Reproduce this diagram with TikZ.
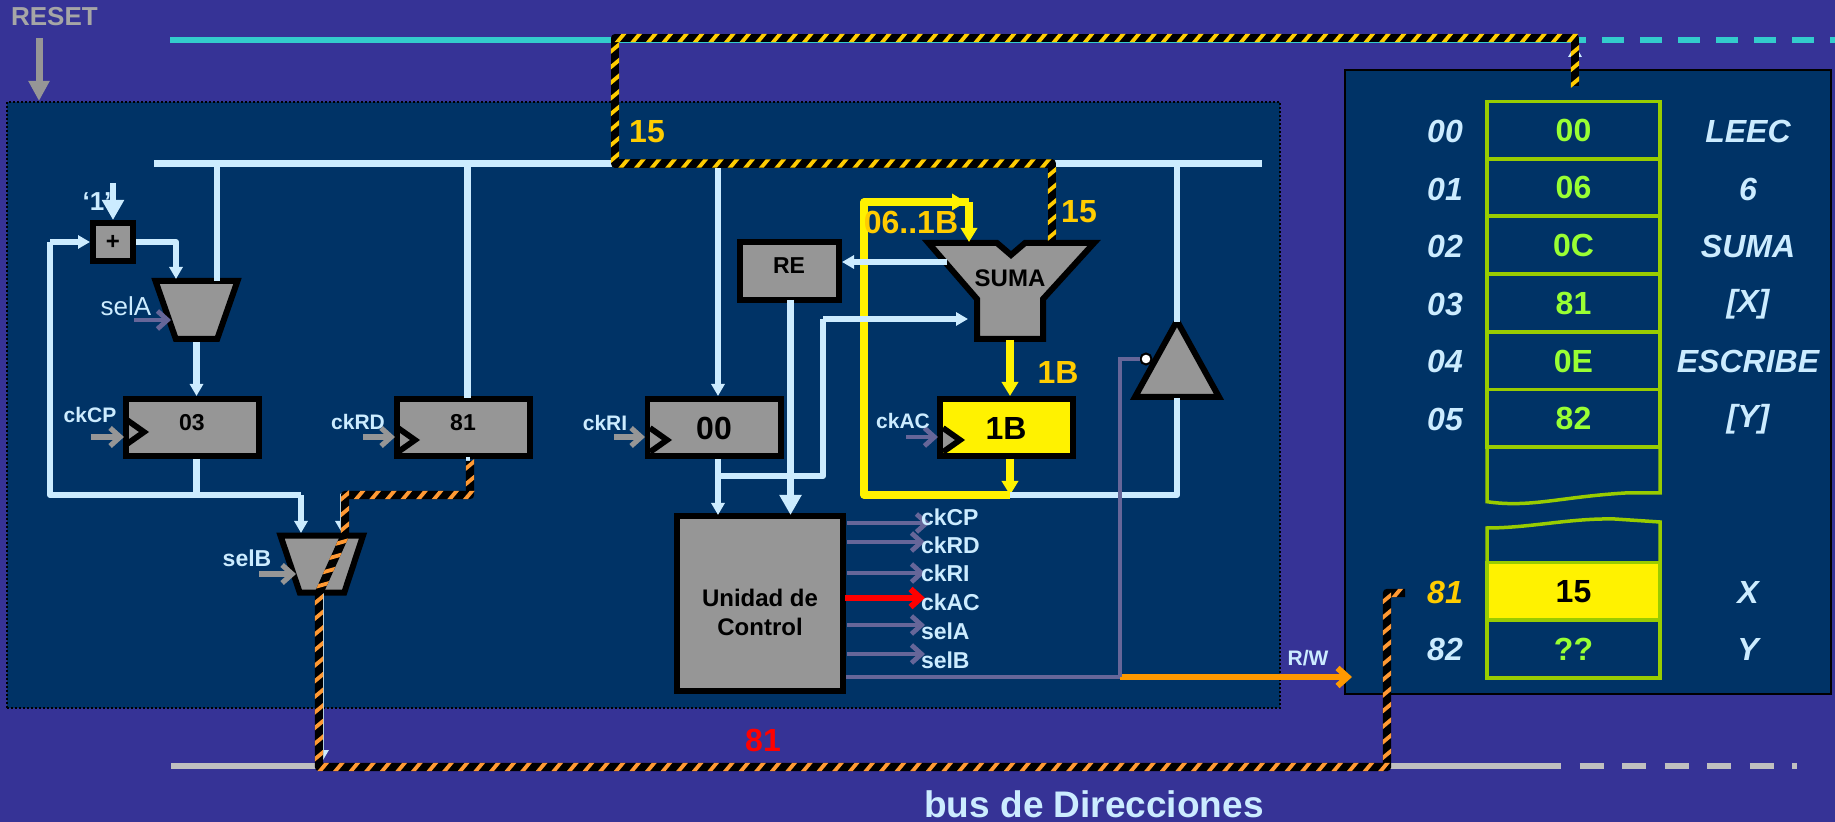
\documentclass[tikz,border=0pt]{standalone}
\usepackage{fontspec}
\setmainfont{Liberation Sans}
\usetikzlibrary{arrows.meta,decorations.markings}
\definecolor{bgp}{HTML}{363396}
\definecolor{panel}{HTML}{003366}
\definecolor{lb}{HTML}{CCECFF}
\definecolor{teal1}{HTML}{33CCCC}
\definecolor{boxg}{HTML}{969696}
\definecolor{ctl}{HTML}{666699}
\definecolor{gold}{HTML}{FFCC00}
\definecolor{memg}{HTML}{99CC00}
\definecolor{memt}{HTML}{99FF33}
\definecolor{busg}{HTML}{C0C0C0}
\definecolor{org}{HTML}{FF9933}
\definecolor{rworg}{HTML}{FF9900}
\newcommand{\szb}[1]{\fontsize{#1pt}{#1pt}\selectfont\bfseries}
\newcommand{\szi}[1]{\fontsize{#1pt}{#1pt}\selectfont\bfseries\itshape}
\tikzset{
  txt/.style={inner sep=0pt,outer sep=0pt,text=lb,align=center},
  box/.style={draw=black,line width=2.8pt,fill=boxg,inner sep=0pt},
  reg/.style={box,minimum width=66.7pt,minimum height=28.7pt},
  shapeb/.style={draw=black,line width=3pt,fill=boxg,line join=miter},
  lw/.style={draw=lb,line width=3.1pt,line join=round},
  tipS/.style={-{Triangle[length=6pt,width=6.5pt]}},
  tipL/.style={-{Triangle[length=10pt,width=10.5pt]}},
  ywire/.style={draw=yellow,line width=3.6pt,line join=round},
  tipY/.style={-{Triangle[length=7pt,width=8pt]}},
  ctlw/.style={draw=ctl,line width=2.4pt},
  barb/.style={-{Straight Barb[length=5pt,width=9pt]}},
  cell/.style={draw=memg,line width=1.75pt,minimum width=86.5pt,minimum height=28.75pt,inner sep=0pt,outer sep=0pt,text=memt},
  hazard/.style={draw=black,line width=4.2pt,line join=round,
    postaction={decorate,decoration={markings,mark=between positions 2pt and 1 step 7.8pt with {
      \pgfgettransformentries{\hma}{\hmb}{\hmc}{\hmd}{\hme}{\hmf}
      \pgfmathsetmacro{\hzs}{abs(\hma)>=abs(\hmb)?1:-1}
      \fill[#1] ({\hzs*-3pt},-2.1pt) -- ({\hzs*-0.5pt},-2.1pt) -- ({\hzs*3pt},2.1pt) -- ({\hzs*0.5pt},2.1pt) -- cycle;}}}}
}
\begin{document}
\begin{tikzpicture}[x=0.5pt,y=-0.5pt]
\useasboundingbox (0,0) rectangle (1835,822);
\fill[bgp] (0,0) rectangle (1835,822);
% panels
\node[draw=black,line width=1pt,dash pattern=on 1pt off 1pt,fill=panel,minimum width=636.5pt,minimum height=303pt,inner sep=0pt] (cpu) at (643.5,405) {};
\node[draw=black,line width=1pt,fill=panel,minimum width=243pt,minimum height=312pt,inner sep=0pt] (memory) at (1588,382) {};

% coordinates
\coordinate (resetA) at (39,38); \coordinate (resetB) at (39,101);
\coordinate (tbusL) at (170,40); \coordinate (tbusM) at (1575,40);
\coordinate (tdashL) at (1564,40); \coordinate (tbusR) at (1835,40);
\coordinate (abusL) at (171,766); \coordinate (abusM) at (320,766);
\coordinate (abusN) at (1387,766); \coordinate (abusO) at (1537,766); \coordinate (abusR) at (1797,766);
\coordinate (busL) at (154,163.5); \coordinate (busR) at (1262,163.5);
\coordinate (busA) at (217,163.5); \coordinate (busD) at (467.5,163.5);
\coordinate (busI) at (718,163.5); \coordinate (busT) at (1177,163.5);
\coordinate (muxAin1) at (217,281); \coordinate (muxAin2) at (176,279);
\coordinate (muxAout) at (196.5,342);
\coordinate (muxBin1) at (301,533); \coordinate (muxBin2) at (342,533); \coordinate (muxBout) at (322,593);
\coordinate (loopL) at (50,495); \coordinate (loopM) at (50,242);
\coordinate (hzA) at (1575,86); \coordinate (hzB) at (1575,38); \coordinate (hzC) at (615,38);
\coordinate (hzD) at (615,163.5); \coordinate (hzE) at (1052,163.5); \coordinate (hzF) at (1052,242);
\coordinate (hoA) at (470,461); \coordinate (hoB) at (470,495); \coordinate (hoC) at (345,495);
\coordinate (hoD) at (345,535); \coordinate (hoE) at (319,593); \coordinate (hoF) at (319,767);
\coordinate (hoG) at (1387,767); \coordinate (hoH) at (1387,593); \coordinate (hoI) at (1405,593);
\coordinate (sIn1) at (969,242); \coordinate (sIn2) at (968,319); \coordinate (sOutR) at (947,262);
\coordinate (sOutY) at (1010,340);
\coordinate (yTL) at (864,202); \coordinate (yBL) at (864,495); \coordinate (yJ) at (1010,495);
\coordinate (yTR) at (969,202); \coordinate (trB) at (1177,398); \coordinate (trT) at (1177,322);
\coordinate (rwA) at (846,677); \coordinate (rwB) at (1120,677); \coordinate (rwC) at (1352,677);

% buses
\draw[draw=teal1,line width=3pt] (tbusL) -- (tbusM);
\draw[draw=teal1,line width=3pt,dash pattern=on 11pt off 8pt] (tdashL) -- (tbusR);
\draw[draw=busg,line width=3pt] (abusL) -- (abusM);
\draw[draw=busg,line width=3pt] (abusN) -- (abusO);
\draw[draw=busg,line width=3pt,dash pattern=on 12pt off 9.25pt] (abusO) -- (abusR);
\draw[draw=boxg,line width=3.5pt,-{Triangle[length=10pt,width=10pt]}] (resetA) -- (resetB);
\draw[lw,line width=3.2pt] (busL) -- (busR);

% boxes
\node[box,minimum width=20.2pt,minimum height=19.2pt] (plus) at (113,242) {};
\node[reg] (regCP) at (192.5,427.5) {};
\node[reg] (regRD) at (463.5,427.5) {};
\node[reg] (regRI) at (714,427.5) {};
\node[reg,fill=yellow] (regAC) at (1006.5,427.5) {};
\node[box,minimum width=49.7pt,minimum height=29.2pt] (regRE) at (789.5,271) {};
\node[box,minimum width=83.2pt,minimum height=87.7pt] (ctrl) at (760,603.5) {};
\draw[shapeb] (155.5,281) -- (237.5,281) -- (217.2,339) -- (175.8,339) -- cycle;
\draw[shapeb] (280.5,535.7) -- (363,535.7) -- (344.2,592.7) -- (299.8,592.7) -- cycle;
\draw[shapeb] (928.5,243) -- (997,243) -- (1011,255) -- (1025,243) -- (1094,243) -- (1043,299) -- (1043,339) -- (977,339) -- (977,299) -- cycle;
\draw[shapeb] (1177,321) -- (1219,397) -- (1135,397) -- cycle;

% clock marks
\fill[boxg] (943,429) -- (960,440) -- (943,452) -- cycle;
\foreach \cx/\cy in {127/432,398/440,650/440,943/440}
  \draw[black,line width=2.9pt,line join=miter] (\cx,\cy-12) -- (\cx+17,\cy) -- (\cx,\cy+12);

% yellow wires
\draw[ywire,tipY] (yJ |- regAC.south) -- (yJ);
\draw[ywire] (yJ) -- (yBL) -- (yTL) -- (yTR);
\draw[ywire,tipY] (yTL) -- (966,202);
\draw[ywire,tipY] (yTR) -- (sIn1);
\draw[ywire,tipY] (sOutY) -- (sOutY |- regAC.north);

% light wires
\draw[lw] (busA) -- (muxAin1);
\draw[lw] (busD) -- (467.5,398);
\draw[lw,tipS] (busI) -- (718,396);
\draw[lw,tipS] (plus.east) -| (muxAin2);
\draw[lw,tipS] (muxAout) -- (muxAout |- regCP.north);
\draw[lw] (muxAout |- regCP.south) -- (196.5,495);
\draw[lw,tipS] (loopL -| muxBin1) -- (muxBin1);
\draw[lw] (loopL -| muxBin1) -- (loopL) -- (loopM);
\draw[lw,tipS] (loopM) -- (plus.west);
\draw[lw,tipS] (busI |- regRI.south) -- (718,515);
\draw[lw] (718,476) -- (823,476) -- (823,319);
\draw[lw,tipS] (823,319) -- (sIn2);
\draw[lw,tipL] (790.5,300) -- (790.5,515);
\draw[lw,tipS] (sOutR) -- (sOutR -| regRE.east);
\draw[lw] (yJ) -- (1177,495) -- (trB);
\draw[lw] (busT) -- (trT);
\draw[lw,line width=2pt,tipS] (467.5,457) -- (467.5,495) -- (342,495) -- (muxBin2);
\draw[lw,line width=1.5pt,tipS] (muxBout) -- (322,762);
\draw[lw,tipS] (hzA) -- (1575,45);

% control wires
\draw[ctlw,barb] (134,320) -- (171,320);
\draw[ctlw,barb] (906,437) -- (938,437);
\draw[draw=boxg,line width=2.6pt,barb] (91,437) -- (124,437);
\draw[draw=boxg,line width=2.6pt,barb] (363,437) -- (395,437);
\draw[draw=boxg,line width=2.6pt,barb] (614,437) -- (645,437);
\draw[draw=boxg,line width=2.6pt,barb] (259,574) -- (296,574);
\foreach \yy/\tx in {523/930,542/925,573/925,625/925,654/925}
  \draw[ctlw,barb] (847,\yy) -- (\tx,\yy);
\draw[draw=red,line width=3pt,barb] (845,598) -- (925,598);
\draw[ctlw] (rwA) -- (rwB);
\draw[draw=rworg,line width=3pt,barb] (rwB) -- (rwC);
\node[circle,draw=black,line width=1pt,fill=white,minimum size=5.5pt,inner sep=0pt] (bubble) at (1146,359) {};
\draw[ctlw] (rwB) -- (1120,359) -- (bubble.west);

% hazard wires
\draw[hazard=gold] (hzA) -- (hzB) -- (hzC) -- (hzD) -- (hzE) -- (hzF);
\draw[hazard=org] (hoA) -- (hoB) -- (hoC) -- (hoD) -- (hoE) -- (hoF) -- (hoG) -- (hoH) -- (hoI);

% texts
\node[txt,text=boxg!85!white] (tReset) at (54.4,17) {\szb{13}RESET};
\node[txt] (tOne) at (97,202) {\szb{13}‘1’};
\draw[lw,line width=2.8pt,tipL] (113,183) -- (plus.north);
\node[txt,text=black] (tPlus) at (113,242) {\szb{12}+};
\node[txt] (tSelA) at (126,306) {\fontsize{13}{13}\selectfont selA};
\node[txt] (tSelB) at (247,558) {\szb{11.5}selB};
\node[txt] (tckCP) at (90,415) {\szb{10.5}ckCP};
\node[txt] (tckRD) at (358,422) {\szb{10.5}ckRD};
\node[txt] (tckRI) at (605,423) {\szb{10.5}ckRI};
\node[txt] (tckAC) at (903,421) {\szb{10.5}ckAC};
\node[txt,text=black] (t03) at (192,423) {\szb{11.5}03};
\node[txt,text=black] (t81r) at (463,423) {\szb{11.5}81};
\node[txt,text=black] (t00r) at (714,428) {\szb{16}00};
\node[txt,text=black] (t1Br) at (1006,428) {\szb{16}1B};
\node[txt,text=black] (tRE) at (789,266) {\szb{11.5}RE};
\node[txt,text=black] (tSUMA) at (1010,278) {\szb{12}SUMA};
\node[txt,text=black,font=\fontsize{12}{14.5}\selectfont\bfseries] (tUC) at (760,612) {Unidad de\\Control};
\node[txt,text=gold] (t15a) at (647,132) {\szb{16}15};
\node[txt,text=gold] (t15b) at (1079,212) {\szb{16}15};
\node[txt,text=gold] (t06) at (911,222) {\szb{16}06..1B};
\node[txt,text=gold] (t1B) at (1058,372) {\szb{16}1B};
\node[txt,text=red] (t81bus) at (763,740) {\szb{16}81};
\node[txt] (tBus) at (1094,804.5) {\szb{18.5}bus de Direcciones};
\node[txt] (tRW) at (1308,658) {\szb{10.5}R/W};
\foreach \nm/\yy/\tt in {a/517/ckCP,b/545/ckRD,c/573/ckRI,d/602/ckAC,e/631/selA,f/660/selB}
  \node[txt,anchor=west] (o\nm) at (921,\yy) {\szb{11.5}\tt};

% memory
\node[cell] (m0) at (1573.5,130.5) {\szb{16}00};
\node[cell] (m1) at (1573.5,187.5) {\szb{16}06};
\node[cell] (m2) at (1573.5,245) {\szb{16}0C};
\node[cell] (m3) at (1573.5,303) {\szb{16}81};
\node[cell] (m4) at (1573.5,361) {\szb{16}0E};
\node[cell] (m5) at (1573.5,418.5) {\szb{16}82};
\node[cell,fill=yellow,text=black] (mX) at (1573.5,591.5) {\szb{16}15};
\node[cell] (mY) at (1573.5,649) {\szb{16}??};
\draw[draw=memg,line width=1.75pt] (m5.south west) -- (1487,501.7) .. controls (1530,508) and (1560,497) .. (1625,493) -- (1660,493) -- (m5.south east);
\draw[draw=memg,line width=1.75pt] (mX.north west) -- (1487,528) .. controls (1530,528) and (1570,518) .. (1615,519) -- (1660,522) -- (mX.north east);
\foreach \nm/\yy/\tt in {a/131/00,b/189/01,c/246/02,d/304/03,e/361/04,f/419/05,h/649/82}
  \node[txt] (ad\nm) at (1445,\yy) {\szi{16}\tt};
\node[txt,text=gold] (adg) at (1445,592) {\szi{16}81};
\foreach \nm/\yy/\tt in {a/131/LEEC,b/189/6,c/246/SUMA,d/304/[X],e/361/ESCRIBE,f/419/[Y],g/592/X,h/649/Y}
  \node[txt] (la\nm) at (1748,\yy) {\szi{16}\tt};
\end{tikzpicture}
\end{document}
